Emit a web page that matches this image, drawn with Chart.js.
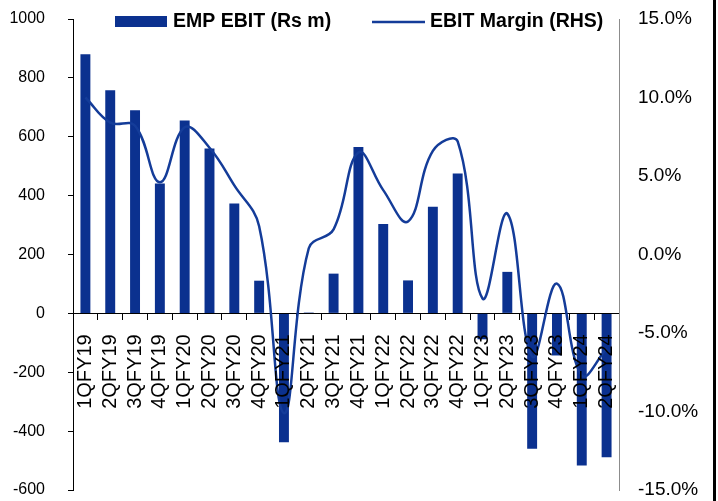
<!DOCTYPE html>
<html>
<head>
<meta charset="utf-8">
<script src="https://cdn.jsdelivr.net/npm/chart.js@4.4.1/dist/chart.umd.min.js"></script>
<style>
    html, body { margin: 0; padding: 0; background: #fff; }
    #cadre { position: relative; width: 718px; height: 501px; }
    #bord { position: absolute; left: 713px; top: 0; width: 3px; height: 501px; background: #000; }
</style>
</head>
<body>
<div id="cadre">
    <canvas id="graphe" width="718" height="501"></canvas>
    <div id="bord"></div>
</div>
<script>
const trimestres = ['1QFY19', '2QFY19', '3QFY19', '4QFY19', '1QFY20', '2QFY20', '3QFY20', '4QFY20',
    '1QFY21', '2QFY21', '3QFY21', '4QFY21', '1QFY22', '2QFY22', '3QFY22', '4QFY22',
    '1QFY23', '2QFY23', '3QFY23', '4QFY23', '1QFY24', '2QFY24'];
// EBIT en Rs m (barres, axe gauche)
const ebit = [880, 758, 690, 441, 655, 560, 373, 111, -438, 3, 135, 565, 304, 112, 362, 475, -88, 141, -460, -143, -517, -489];
// marge EBIT en % (courbe, axe droit)
const marge = [10.0, 8.4, 8.2, 4.6, 8.1, 6.8, 4.4, 1.8, -10.1, 0.4, 1.6, 6.5, 4.1, 2.1, 6.6, 7.2, -2.8, 2.6, -6.5, -1.85, -7.7, -6.0];
const legendes = ['EMP EBIT (Rs m)', 'EBIT Margin (RHS)'];

const couleurBarre = '#0b318f';
const couleurLigne = '#143c99';
const police = 'Liberation Sans';

// legende dessinee a la main, dans la zone du graphe
const legende = {
    id: 'legende',
    afterDraw(chart) {
        const ctx = chart.ctx;
        ctx.save();
        ctx.fillStyle = couleurBarre;
        ctx.fillRect(115, 16, 52, 11);
        ctx.strokeStyle = couleurLigne;
        ctx.lineWidth = 2.5;
        ctx.beginPath();
        ctx.moveTo(372, 22);
        ctx.lineTo(425, 22);
        ctx.stroke();
        ctx.fillStyle = '#000';
        ctx.font = 'bold 19.5px "' + police + '"';
        ctx.textBaseline = 'middle';
        ctx.fillText(legendes[0], 173, 22);
        ctx.fillText(legendes[1], 430, 22);
        ctx.restore();
    }
};

// pas de marge interne des axes, la zone du graphe est fixee par layout.padding
function sansMarge(s) {
    s.paddingTop = 0;
    s.paddingBottom = 0;
    s.paddingLeft = 0;
    s.paddingRight = 0;
}

function graphe(id) {
    const ctx = document.getElementById(id);
    new Chart(ctx, {
        type: 'bar',
        data: {
            labels: trimestres,
            datasets: [{
                    type: 'line',
                    label: legendes[1],
                    data: marge,
                    yAxisID: 'y1',
                    borderColor: couleurLigne,
                    borderWidth: 2.5,
                    pointRadius: 0,
                    tension: 0.4,
                    fill: false,
                    order: 0
                }, {
                    label: legendes[0],
                    data: ebit,
                    yAxisID: 'y',
                    backgroundColor: couleurBarre,
                    borderWidth: 0,
                    barPercentage: 0.4,
                    categoryPercentage: 1,
                    order: 1
                }]
        },
        options: {
            responsive: false,
            animation: false,
            layout: { padding: { top: 19, bottom: 11, left: 0, right: 0 } },
            plugins: { legend: { display: false }, tooltip: { enabled: false } },
            scales: {
                x: {
                    position: { y: 0 },
                    offset: true,
                    grid: { offset: true, drawOnChartArea: false, tickLength: 6, color: '#000' },
                    border: { color: '#000', width: 1 },
                    ticks: {
                        autoSkip: false, minRotation: 90, maxRotation: 90,
                        padding: 15, color: '#000',
                        z: 1, // les libelles passent par dessus les barres
                        font: { family: police, size: 20 }
                    },
                    afterFit: (s) => { s.height = 0; sansMarge(s); }
                },
                y: {
                    position: 'left',
                    min: -600,
                    max: 1000,
                    ticks: {
                        stepSize: 200, padding: 23, color: '#000',
                        font: { family: police, size: 16 },
                        callback: (v) => String(v)
                    },
                    grid: { drawOnChartArea: false, tickLength: 5, color: '#000' },
                    border: { color: '#000', width: 1 },
                    afterFit: (s) => { s.width = 73; sansMarge(s); }
                },
                y1: {
                    position: 'right',
                    min: -15,
                    max: 15,
                    ticks: {
                        stepSize: 5, padding: 19, color: '#000',
                        font: { family: police, size: 19 },
                        callback: (v) => v.toFixed(1) + '%'
                    },
                    grid: { display: false, drawTicks: false },
                    border: { display: true, color: '#8c8c8c', width: 1 },
                    afterFit: (s) => { s.width = 99; sansMarge(s); }
                }
            }
        },
        plugins: [legende]
    });
}

graphe('graphe');
</script>
</body>
</html>
